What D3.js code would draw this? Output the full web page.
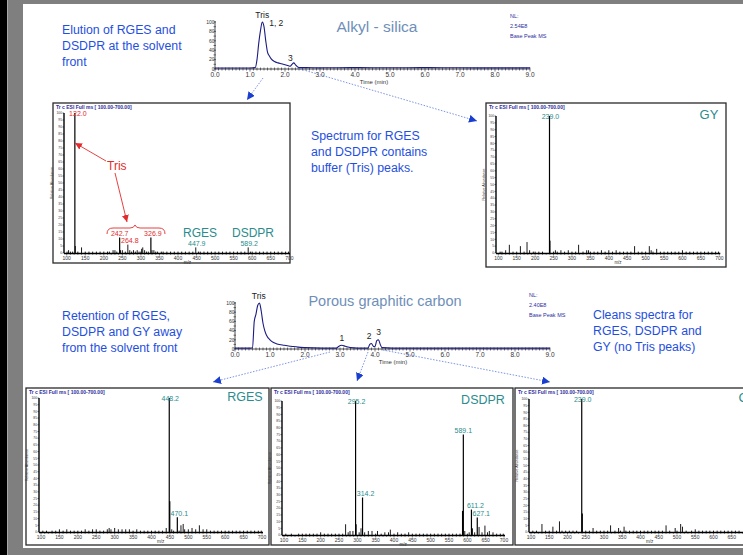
<!DOCTYPE html>
<html><head><meta charset="utf-8">
<script src="https://cdn.jsdelivr.net/npm/d3@7"></script>
<style>body{margin:0;background:#fff;} svg{display:block;font-family:"Liberation Sans",Arial,sans-serif;}</style>
</head><body><svg id="c" width="743" height="555"></svg>
<script>
// ---------------- DATA ----------------
const chromTicks = [0,1,2,3,4,5,6,7,8,9];
const chromYTicks = [0,20,40,60,80,100];
const mzTicks = [100,150,200,250,300,350,400,450,500,550,600,650,700];
const abundTicks = d3.range(0,101,5);

// Alkyl-silica base peak chromatogram (time min, rel. intensity)
const chromATime = [0,0.5,1.0,1.15,1.2,1.25,1.3,1.35,1.4,1.45,1.5,1.55,1.6,1.7,1.8,1.9,2.0,2.1,2.15,2.2,2.25,2.3,2.35,2.4,2.6,3,4,5,6,7,8,9];
const chromAInt  = [2,2,2,3,20,55,82,100,90,60,36,28,22,16,13,11,9,7,6,10,13,9,5,3,3,2.5,3,2.5,3,2.5,2.5,2.5];
// Porous graphitic carbon chromatogram
const chromBTime = [0,0.45,0.5,0.55,0.6,0.65,0.7,0.75,0.8,0.85,0.9,1.0,1.1,1.2,1.4,1.6,1.8,2.0,2.5,2.9,2.95,3.05,3.15,3.3,3.5,3.8,3.85,3.9,3.95,4.0,4.05,4.1,4.15,4.2,4.5,5,6,7,8,9];
const chromBInt  = [2,2,3,60,76,95,100,82,56,40,30,20,14,11,8,6,4,3,2,2,5,8,6,3,2,2,10,12,6,5,18,20,10,3,2,2,2,2,2,2];

// Spectra: m/z and relative abundance
const specAlkylMz  = [101,105,110,116,122.0,123.2,130,140,150,160,170,180,190,200,210,215,225,230,235,242.7,245,250,258,264.8,270,275,280,285,290,295,300,302,305,310,315,320,326.9,330,335,340,345,355,360,370,380,390,400,410,420,430,440,447.9,455,460,470,480,490,500,510,520,530,540,550,560,570,580,589.2,595,600,610,620,630,640,650,660,670,680,690,698];
const specAlkylInt = [1,2,1,1,100,5,1,4,1,1,1,1,1,1,1,1,2,2,1,11,2,2,1,6,2,1,2,1,2,1,1,3,4,2,1,1,11,2,2,1,1,1,1,1,1,1,1,1,1,1,1,4,1,1,1,1,1,1,1,1,1,1,1,1,1,1,4,1,1,1,1,1,1,1,1,1,1,1,1];
const specAlkylLabMz  = [122.0,242.7,264.8,326.9,447.9,589.2];
const specAlkylLabTxt = ["122.0","242.7","264.8","326.9","447.9","589.2"];

const specGY1Mz  = [105,110,120,130,140,150,160,170,178,185,195,200,210,220,239.0,240.5,250,255,260,270,280,290,300,310,318,330,340,345,350,360,370,380,390,400,410,420,430,440,450,460,470,480,490,500,510,515,520,530,540,550,560,570,580,590,600,610,620,630,640,650,660,670,680,690,698];
const specGY1Int = [1,1,2,6,1,1,5,1,8,2,1,1,1,1,100,9,1,2,1,2,1,2,1,1,6,1,2,2,1,1,1,2,1,2,1,2,1,1,1,1,5,1,1,1,5,2,1,3,1,1,1,1,1,1,2,1,1,1,1,1,1,1,1,1,1];
const specGY1LabMz  = [239.0];
const specGY1LabTxt = ["239.0"];

const specRGESMz  = [105,115,130,140,150,160,170,180,190,200,210,220,230,240,250,260,270,280,285,290,300,310,320,330,340,350,360,370,380,390,400,410,420,430,440,448.2,449.6,455,460,470.1,475,480,486,490,500,510,520,530,540,550,560,570,580,590,600,610,620,630,640,650,660,670,680,690,698];
const specRGESInt = [1,1,1,1,2,1,2,1,1,1,1,2,1,2,2,1,1,2,3,2,3,2,2,2,2,1,2,1,1,1,1,1,1,1,3,100,23,2,1,11,1,5,6,2,2,3,2,5,2,2,1,1,1,1,1,1,1,1,1,1,1,1,1,1,1];
const specRGESLabMz  = [448.2,470.1];
const specRGESLabTxt = ["448.2","470.1"];

const specDSDPRMz  = [105,120,140,150,160,170,180,190,200,210,220,230,240,250,260,268,275,280,288,295.2,297,305,310,314.2,320,330,340,350,355,365,375,385,390,400,410,420,430,440,450,460,470,480,490,500,510,520,530,540,550,560,570,580,587,589.1,593,600,605,611.2,614,620,627.1,632,640,648,655,660,670,680,690,698];
const specDSDPRInt = [1,1,1,1,1,1,1,1,2,1,1,1,1,1,1,8,2,3,3,100,8,2,5,28,2,3,3,1,3,1,2,2,4,1,2,1,1,2,1,1,1,1,1,1,1,1,1,1,1,1,1,1,18,75,3,1,2,19,5,2,13,6,2,7,2,3,2,1,1,1];
const specDSDPRLabMz  = [295.2,314.2,589.1,611.2,627.1];
const specDSDPRLabTxt = ["295.2","314.2","589.1","611.2","627.1"];

const specGY2Mz  = [105,115,130,140,150,160,170,178,185,195,205,215,225,239.0,240.5,250,260,270,280,290,300,310,318,330,340,345,355,360,370,380,390,400,410,420,430,440,450,460,470,480,495,500,510,515,525,540,550,560,570,580,590,600,610,620,630,640,650,660,670];
const specGY2Int = [1,1,6,1,1,4,1,8,1,1,1,1,1,100,14,1,1,3,1,1,1,1,5,1,3,1,4,1,1,1,1,1,1,1,1,1,1,1,5,1,3,1,6,4,1,1,2,1,1,1,1,1,1,1,1,1,1,1,1];
const specGY2LabMz  = [239.0];
const specGY2LabTxt = ["239.0"];

// ---------------- DRAW ----------------
const svg = d3.select("#c");
const BLUE_TXT = "#1f4fe0", TEAL = "#2a8c8c", RED = "#e32b2b", HDR = "#2e2e9e", NAVY = "#1b1b82";

// background frame
svg.append("rect").attr("x",0).attr("y",0).attr("width",743).attr("height",555).attr("fill","#7f7f7f");
svg.append("rect").attr("x",0).attr("y",0).attr("width",7).attr("height",555).attr("fill","#000");
svg.append("rect").attr("x",23).attr("y",4).attr("width",720).attr("height",544).attr("fill","#fff");
svg.append("line").attr("x1",7.5).attr("x2",7.5).attr("y1",0).attr("y2",555).attr("stroke","#a8a8a8").attr("stroke-width",1);

const defs = svg.append("defs");
defs.append("marker").attr("id","ahB").attr("markerUnits","userSpaceOnUse").attr("markerWidth",9).attr("markerHeight",9)
  .attr("refX",8).attr("refY",4).attr("orient","auto")
  .append("path").attr("d","M0,0 L8,4 L0,8 Z").attr("fill","#1a3fd0");
defs.append("marker").attr("id","ahR").attr("markerUnits","userSpaceOnUse").attr("markerWidth",8).attr("markerHeight",8)
  .attr("refX",7).attr("refY",3.5).attr("orient","auto")
  .append("path").attr("d","M0,0 L7,3.5 L0,7 Z").attr("fill",RED);

function textLines(x, y0, lh, lines, size, color){
  lines.forEach((t,i)=>svg.append("text").attr("x",x).attr("y",y0+i*lh).attr("font-size",size).attr("fill",color).text(t));
}

function drawChrom(c){
  const g = svg.append("g");
  const x = d3.scaleLinear().domain([0,9]).range([c.x0,c.x1]);
  const y = d3.scaleLinear().domain([0,100]).range([c.yb,c.yt]);
  d3.range(0,90.5,1).forEach(k=>{
    const t=k/10;
    g.append("line").attr("x1",x(t)).attr("x2",x(t)).attr("y1",c.yb-1.5).attr("y2",c.yb+(k%10===0?2.5:1.5))
      .attr("stroke","#222").attr("stroke-width",0.6);
  });
  g.append("line").attr("x1",x(0)).attr("x2",x(9)).attr("y1",c.yb).attr("y2",c.yb).attr("stroke","#222").attr("stroke-width",0.8);
  g.append("line").attr("x1",x(0)).attr("x2",x(0)).attr("y1",c.yb).attr("y2",y(100)-1).attr("stroke","#222").attr("stroke-width",0.8);
  d3.range(0,101,10).forEach(v=>{
    g.append("line").attr("x1",x(0)-1.5).attr("x2",x(0)+1).attr("y1",y(v)).attr("y2",y(v)).attr("stroke","#222").attr("stroke-width",0.6);
  });
  chromYTicks.forEach(v=>g.append("text").attr("x",x(0)-0.5).attr("y",y(v)+1.8).attr("text-anchor","end")
    .attr("font-size",5).attr("fill","#333").text(v));
  chromTicks.forEach(v=>g.append("text").attr("x",x(v)).attr("y",c.yb+8).attr("text-anchor","middle")
    .attr("font-size",6.5).attr("fill","#333").text(v.toFixed(1)));
  g.append("text").attr("x",c.tx).attr("y",c.yb+15).attr("text-anchor","middle").attr("font-size",6).attr("fill","#333").text("Time (min)");
  const line = d3.line().x(d=>x(d[0])).y(d=>y(d[1])).curve(d3.curveMonotoneX);
  g.append("path").attr("d",line(d3.zip(c.time,c.int))).attr("fill","none").attr("stroke",NAVY).attr("stroke-width",1.1);
  c.peaks.forEach(p=>g.append("text").attr("x",x(p[0])).attr("y",y(p[1])).attr("text-anchor","middle")
    .attr("font-size",8.5).attr("fill","#222").text(p[2]));
  g.append("text").attr("x",c.titleX).attr("y",c.titleY).attr("text-anchor","middle").attr("font-size",c.titleSize)
    .attr("fill","#6f8fb9").text(c.title);
  c.nl.forEach((t,i)=>g.append("text").attr("x",c.nlX).attr("y",c.nlY+i*10).attr("font-size",5.5).attr("fill",HDR).text(t));
}

function drawSpec(s){
  const g = svg.append("g");
  const x = d3.scaleLinear().domain([100,700]).range([s.x100,s.x700]);
  const y = d3.scaleLinear().domain([0,100]).range([s.yb,s.yt]);
  g.append("rect").attr("x",s.bx0).attr("y",s.by0).attr("width",s.bx1-s.bx0).attr("height",s.by1-s.by0)
    .attr("fill","#fff").attr("stroke","#2a2a2a").attr("stroke-width",1.3);
  g.append("text").attr("x",s.bx0+3).attr("y",s.by0+6).attr("font-size",5).attr("font-weight","bold").attr("fill",HDR)
    .text("Tr c ESI Full ms [ 100.00-700.00]");
  const ax = s.ax;
  g.append("line").attr("x1",ax).attr("x2",ax).attr("y1",s.yb).attr("y2",s.yt).attr("stroke","#000").attr("stroke-width",1.4);
  g.append("line").attr("x1",ax).attr("x2",Math.min(x(700)+1,s.bx1)).attr("y1",s.yb+0.5).attr("y2",s.yb+0.5).attr("stroke","#000").attr("stroke-width",1.4);
  abundTicks.forEach(v=>{
    g.append("line").attr("x1",ax-1.5).attr("x2",ax).attr("y1",y(v)).attr("y2",y(v)).attr("stroke","#000").attr("stroke-width",0.5);
    g.append("text").attr("x",ax-2).attr("y",y(v)+1.2).attr("text-anchor","end").attr("font-size",3.3).attr("fill","#333").text(v);
  });
  g.append("text").attr("transform",`translate(${ax-11},${(s.yb+s.yt)/2}) rotate(-90)`).attr("text-anchor","middle")
    .attr("font-size",3.6).attr("fill","#333").text("Relative Abundance");
  d3.range(100,701,10).forEach(v=>{
    if (x(v) > s.bx1) return;
    g.append("line").attr("x1",x(v)).attr("x2",x(v)).attr("y1",s.yb+0.5).attr("y2",s.yb+(v%50===0?2.5:1.8)).attr("stroke","#000").attr("stroke-width",0.5);
  });
  mzTicks.forEach(v=>{
    if (x(v) > 738) return;
    g.append("text").attr("x",x(v)).attr("y",s.yb+7).attr("text-anchor","middle").attr("font-size",5).attr("fill","#333").text(v);
  });
  g.append("text").attr("x",x(425)).attr("y",s.yb+10.5).attr("text-anchor","middle").attr("font-size",4.5).attr("fill","#333").text("m/z");
  d3.zip(s.mz,s.int).forEach(([m,v])=>{
    g.append("line").attr("x1",x(m)).attr("x2",x(m)).attr("y1",s.yb).attr("y2",y(v)).attr("stroke","#000")
      .attr("stroke-width",v>=10?1.2:0.9);
  });
  s.labMz.forEach((m,i)=>{
    const v = s.int[s.mz.indexOf(m)];
    const ty = Math.max(y(v)-1.5, s.yt+3);
    g.append("text").attr("x",x(m)+(s.labDx?s.labDx[i]:1)).attr("y",ty).attr("text-anchor","middle").attr("font-size",7)
      .attr("fill",s.labColor? s.labColor[i] : TEAL).text(s.labTxt[i]);
  });
  s.titles.forEach(t=>g.append("text").attr("x",t[1]).attr("y",t[2]).attr("text-anchor","middle").attr("font-size",t[3])
    .attr("fill",TEAL).text(t[0]));
  return {x,y};
}

// ---- top section
textLines(62,34,16,["Elution of RGES and","DSDPR at the solvent","front"],12.3,BLUE_TXT);
drawChrom({x0:215,x1:530,yb:69,yt:22,tx:374,time:chromATime,int:chromAInt,
  peaks:[[1.35,108,"Tris"],[1.75,92,"1, 2"],[2.15,18,"3"]],
  title:"Alkyl - silica",titleX:377,titleY:32,titleSize:15.5,nl:["NL:","2.54E8","Base Peak MS"],nlX:510,nlY:18});

drawSpec({bx0:53,by0:103,bx1:290,by1:263,ax:64,x100:66.7,x700:289.3,yb:253,yt:113,
  mz:specAlkylMz,int:specAlkylInt,labMz:specAlkylLabMz,labTxt:specAlkylLabTxt,
  labColor:[RED,RED,RED,RED,TEAL,TEAL],labDx:[3,0,2,2,1,1],
  titles:[["RGES",200,237,12],["DSDPR",253,237,12]]});

drawSpec({bx0:486,by0:103,bx1:726,by1:267,ax:496,x100:498.3,x700:719.3,yb:253,yt:116,
  mz:specGY1Mz,int:specGY1Int,labMz:specGY1LabMz,labTxt:specGY1LabTxt,
  titles:[["GY",709,119,13]]});

textLines(311,140,16,["Spectrum for RGES","and DSDPR contains","buffer (Tris) peaks."],12.3,BLUE_TXT);

// Tris annotation
svg.append("text").attr("x",107).attr("y",170).attr("font-size",12).attr("fill",RED).text("Tris");
svg.append("line").attr("x1",106).attr("y1",161).attr("x2",75).attr("y2",143).attr("stroke",RED).attr("stroke-width",0.9).attr("marker-end","url(#ahR)");
svg.append("line").attr("x1",115).attr("y1",173).attr("x2",127).attr("y2",222).attr("stroke",RED).attr("stroke-width",0.9).attr("marker-end","url(#ahR)");
svg.append("path").attr("d","M107,234 Q107,228 113,228 L130,228 Q134,228 135,225 Q136,228 140,228 L159,228 Q165,228 165,234")
  .attr("fill","none").attr("stroke",RED).attr("stroke-width",0.9);

// ---- bottom section
textLines(62,320,16,["Retention of RGES,","DSDPR and GY away","from the solvent front"],12.3,BLUE_TXT);
textLines(593,319,16,["Cleans spectra for","RGES, DSDPR and","GY (no Tris peaks)"],12.3,BLUE_TXT);
drawChrom({x0:235,x1:550,yb:349,yt:303,tx:393,time:chromBTime,int:chromBInt,
  peaks:[[0.68,108,"Tris"],[3.05,18,"1"],[3.83,22,"2"],[4.1,30,"3"]],
  title:"Porous graphitic carbon",titleX:385,titleY:306,titleSize:14.5,nl:["NL:","2.40E8","Base Peak MS"],nlX:529,nlY:297});

drawSpec({bx0:26,by0:388,bx1:269,by1:545,ax:39,x100:41,x700:262,yb:532,yt:398,
  mz:specRGESMz,int:specRGESInt,labMz:specRGESLabMz,labTxt:specRGESLabTxt,labDx:[1,2],
  titles:[["RGES",245,401,12.5]]});
drawSpec({bx0:271,by0:388,bx1:513,by1:545,ax:282,x100:284,x700:504,yb:535,yt:401,
  mz:specDSDPRMz,int:specDSDPRInt,labMz:specDSDPRLabMz,labTxt:specDSDPRLabTxt,labDx:[1,3,0,4,4],
  titles:[["DSDPR",483,404,12.5]]});
drawSpec({bx0:515,by0:388,bx1:760,by1:545,ax:529,x100:531,x700:750,yb:532,yt:399,
  mz:specGY2Mz,int:specGY2Int,labMz:specGY2LabMz,labTxt:specGY2LabTxt,
  titles:[["GY",748,402,13]]});

// dotted blue connector arrows
[[263,78,247,100],[297,68,477,121],[330,352,213,382],[368,352,357,381],[383,350,550,382]].forEach(a=>{
  svg.append("line").attr("x1",a[0]).attr("y1",a[1]).attr("x2",a[2]).attr("y2",a[3])
    .attr("stroke","#5a78dc").attr("stroke-width",0.8).attr("stroke-dasharray","1.5,1.5").attr("marker-end","url(#ahB)");
});
</script></body></html>
